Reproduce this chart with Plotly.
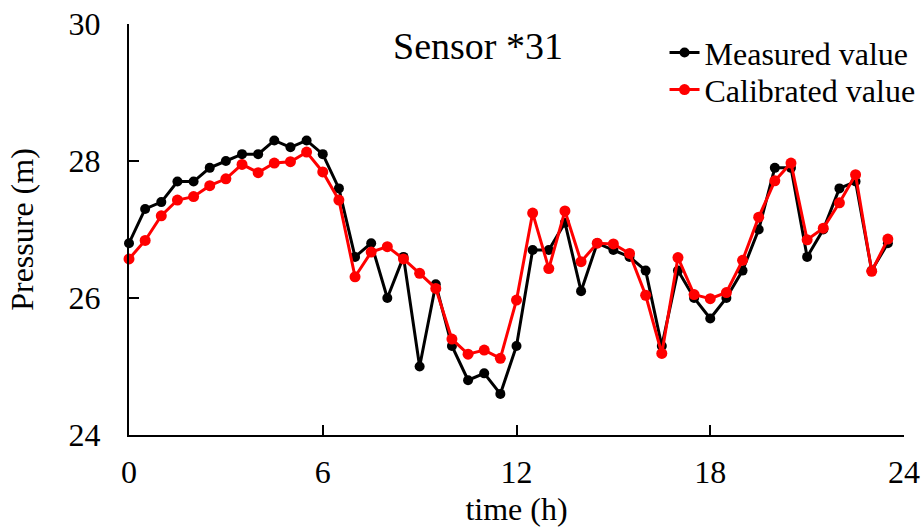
import plotly.graph_objects as go

time_h = [i * 0.5 for i in range(48)]
measured = [26.8, 27.3, 27.4, 27.7, 27.7, 27.9, 28.0, 28.1, 28.1, 28.3, 28.2, 28.3,
            28.1, 27.6, 26.6, 26.8, 26.0, 26.6, 25.0, 26.2, 25.3, 24.8, 24.9, 24.6,
            25.3, 26.7, 26.7, 27.1, 26.1, 26.8, 26.7, 26.6, 26.4, 25.3, 26.4, 26.0,
            25.7, 26.0, 26.4, 27.0, 27.9, 27.9, 26.6, 27.0, 27.6, 27.7, 26.4, 26.8]
calibrated = [26.57, 26.84, 27.2, 27.43, 27.48, 27.64, 27.74, 27.95, 27.83, 27.97, 27.99, 28.13,
              27.84, 27.43, 26.31, 26.67, 26.75, 26.57, 26.36, 26.14, 25.40, 25.18, 25.24, 25.12,
              25.97, 27.24, 26.43, 27.27, 26.53, 26.80, 26.79, 26.65, 26.04, 25.19, 26.59, 26.05,
              25.99, 26.08, 26.55, 27.18, 27.71, 27.97, 26.85, 27.02, 27.39, 27.80, 26.39, 26.86]
x_ticks = [0, 6, 12, 18, 24]
y_ticks = [24, 26, 28, 30]

FONT = "Liberation Serif, Times New Roman, serif"

fig = go.Figure()
fig.add_trace(go.Scatter(x=time_h, y=measured, mode="lines+markers", name="Measured value",
                         line=dict(color="black", width=3),
                         marker=dict(color="black", size=10), cliponaxis=False,
                         legend="legend"))
fig.add_trace(go.Scatter(x=time_h, y=calibrated, mode="lines+markers", name="Calibrated value",
                         line=dict(color="#ff0000", width=3),
                         marker=dict(color="#ff0000", size=11), cliponaxis=False,
                         legend="legend2"))

leg_common = dict(xanchor="left", yanchor="middle", bgcolor="rgba(0,0,0,0)",
                  font=dict(size=32, family=FONT), itemwidth=30)

fig.update_layout(
    width=922, height=528,
    margin=dict(l=129, r=18, t=24, b=93, autoexpand=False),
    paper_bgcolor="white", plot_bgcolor="white",
    font=dict(family=FONT, size=32, color="black"),
    showlegend=True,
    legend=dict(x=0.691, y=0.93, **leg_common),
    legend2=dict(x=0.691, y=0.84, **leg_common),
    annotations=[dict(text="Sensor *31", x=0.45, y=0.946, xref="paper", yref="paper",
                      xanchor="center", yanchor="middle",
                      showarrow=False, font=dict(size=38, family=FONT))],
)
fig.update_xaxes(range=[0, 24], tickvals=x_ticks, ticks="inside", ticklen=10, tickwidth=2,
                 tickcolor="black", showline=True, linecolor="black", linewidth=2,
                 showgrid=False, zeroline=False, ticklabelstandoff=8, automargin=False,
                 ticklabeloverflow="allow",
                 title=dict(text="time (h)", font=dict(size=32, family=FONT), standoff=8))
fig.update_yaxes(range=[24, 30], tickvals=y_ticks, ticks="inside", ticklen=10, tickwidth=2,
                 tickcolor="black", showline=True, linecolor="black", linewidth=2,
                 showgrid=False, zeroline=False, ticklabelstandoff=20, automargin=False,
                 ticklabeloverflow="allow",
                 title=dict(text="Pressure (m)", font=dict(size=32, family=FONT), standoff=25))

fig.write_html("out.html", config={"displayModeBar": False},
               post_script="document.body.style.margin='0';")
